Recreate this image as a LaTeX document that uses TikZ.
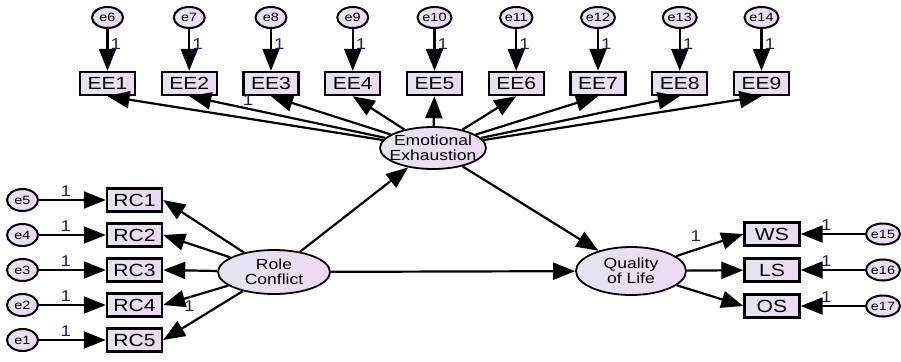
\documentclass[tikz,border=0pt]{standalone}
\usepackage{fontspec}
\setmainfont{Liberation Sans}[FakeStretch=1.2]
\usetikzlibrary{arrows.meta, shapes.geometric}
\definecolor{shadeL}{RGB}{226,229,240}
\definecolor{shadeR}{RGB}{238,216,244}
\definecolor{parcol}{RGB}{25,35,95}

\begin{document}
\begin{tikzpicture}[x=0.5pt, y=-0.5pt,
	obs/.style={draw, line width=1.2pt, rectangle, minimum width=27.5pt, minimum height=11.5pt, inner sep=0pt, left color=shadeL, right color=shadeR, font=\fontsize{8.8}{9}\selectfont},
	lat/.style={draw, line width=0.9pt, ellipse, inner xsep=-3pt, inner ysep=0pt, align=center, left color=shadeL, right color=shadeR, font=\fontsize{7.3}{7.4}\selectfont},
	err/.style={draw, line width=1pt, ellipse, minimum width=15.5pt, minimum height=10.5pt, inner sep=0pt, left color=shadeL, right color=shadeR, font=\fontsize{6}{6.5}\selectfont},
	arr/.style={-{Triangle[length=11pt, width=8.5pt]}, line width=1.1pt},
	lbl/.style={text=parcol, inner sep=1pt, font=\fontsize{7.8}{8}\selectfont}]
	\useasboundingbox (0,0) rectangle (901,361);
	\def\dx{81.75}

	\node[lat, minimum width=53pt, minimum height=21pt] (emo) at (433,148) {Emotional\\Exhaustion};
	\node[lat, minimum width=56pt, minimum height=22pt] (role) at (274,272) {Role\\Conflict};
	\node[lat, minimum width=55pt, minimum height=24pt] (qol) at (631,271) {Quality\\of Life};

	\foreach \i [count=\k from 6] in {1,...,9} {
		\node[obs] (ee\i) at ({107.5+\dx*(\i-1)},83.5) {EE\i};
		\node[err] (e\k) at ({107.5+\dx*(\i-1)},17.5) {e\k};
		\draw[arr] (e\k) -- node[lbl, right, pos=.35] {1} (ee\i);
	}
	\draw[arr] (emo) -- (ee1.south);
	\draw[arr] (emo) -- node[lbl, above, pos=.7] {1} (ee2.south);
	\foreach \i in {3,...,9}
		\draw[arr] (emo) -- (ee\i.south);

	\foreach \i [evaluate=\i as \k using int(6-\i)] in {1,...,5} {
		\node[obs] (rc\i) at (134.5,{165+35*\i}) {RC\i};
		\node[err, minimum height=11pt] (e\k) at (22.5,{165+35*\i}) {e\k};
		\draw[arr] (e\k) -- node[lbl, above, pos=.4] {1} (rc\i);
	}
	\foreach \i in {1,2,3,5}
		\draw[arr] (role) -- (rc\i.east);
	\draw[arr] (role) -- node[lbl, below, pos=.6] {1} (rc4.east);

	\node[obs] (ws) at (772,234) {WS};
	\node[obs] (ls) at (772,270) {LS};
	\node[obs] (os) at (772,306) {OS};
	\node[err] (e15) at (883,234) {e15};
	\node[err] (e16) at (883,270) {e16};
	\node[err] (e17) at (883,306) {e17};
	\draw[arr] (e15) -- node[lbl, above, pos=.6] {1} (ws);
	\draw[arr] (e16) -- node[lbl, above, pos=.6] {1} (ls);
	\draw[arr] (e17) -- node[lbl, above, pos=.6] {1} (os);
	\draw[arr] (qol) -- node[lbl, above left, pos=.45, inner sep=2pt] {1} (ws.west);
	\draw[arr] (qol) -- (ls);
	\draw[arr] (qol) -- (os.west);

	\draw[arr] (role) -- (emo);
	\draw[arr] (role) -- (qol);
	\draw[arr] (emo) -- (qol);
\end{tikzpicture}
\end{document}
